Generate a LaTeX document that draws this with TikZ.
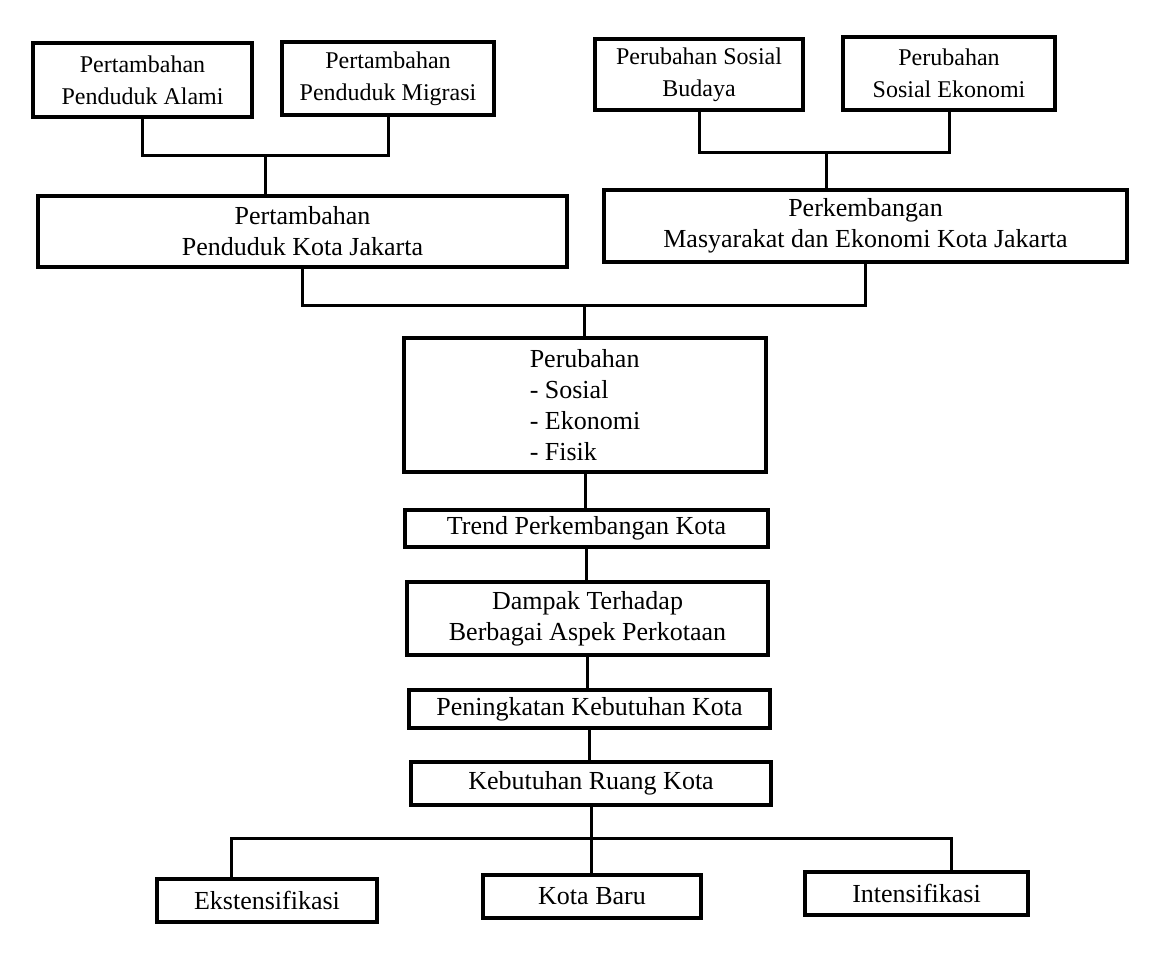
\documentclass[tikz,border=0pt]{standalone}
\usepackage{fontspec}
\setmainfont{Liberation Serif}
\tikzset{
  box/.style={draw=black, line width=3.4pt, fill=white, inner sep=0pt, align=center,
              font=\fontsize{26}{31}\selectfont},
  topbox/.style={box, font=\fontsize{24}{32}\selectfont},
  link/.style={draw=black, line width=3pt}
}
\begin{document}
\begin{tikzpicture}[x=1pt,y=-1pt]
\useasboundingbox (0,0) rectangle (1155,953);
% top row
\node[topbox, minimum width=219pt, minimum height=74pt] (b1) at (142.5,80) {Pertambahan\\Penduduk Alami};
\node[topbox, minimum width=212pt, minimum height=73pt] (b2) at (388,78.5) {Pertambahan\\Penduduk Migrasi};
\node[topbox, minimum width=208pt, minimum height=71pt] (b3) at (699,74.5) {Perubahan Sosial\\Budaya};
\node[topbox, minimum width=212pt, minimum height=73pt] (b4) at (949,73.5) {Perubahan\\Sosial Ekonomi};
% second row
\node[box, minimum width=529pt, minimum height=71pt] (b5) at (302.5,231.5) {Pertambahan\\Penduduk Kota Jakarta};
\node[box, minimum width=523pt, minimum height=72pt] (b6) at (865.5,226) {Perkembangan\\Masyarakat dan Ekonomi Kota Jakarta};
% chain
\node[box, minimum width=362pt, minimum height=134pt, align=left] (b7) at (585,405) {Perubahan\\- Sosial\\- Ekonomi\\- Fisik};
\node[box, minimum width=363pt, minimum height=37pt] (b8) at (586.5,528.5) {Trend Perkembangan Kota};
\node[box, minimum width=361pt, minimum height=73pt] (b9) at (587.5,618.5) {Dampak Terhadap\\Berbagai Aspek Perkotaan};
\node[box, minimum width=361pt, minimum height=38pt] (b10) at (589.5,709) {Peningkatan Kebutuhan Kota};
\node[box, minimum width=360pt, minimum height=43pt] (b11) at (591,783.5) {Kebutuhan Ruang Kota};
% bottom row
\node[box, minimum width=220pt, minimum height=43pt] (b12) at (267,900.5) {Ekstensifikasi};
\node[box, minimum width=218pt, minimum height=43pt] (b13) at (592,896.5) {Kota Baru};
\node[box, minimum width=223pt, minimum height=43pt] (b14) at (916.5,893.5) {Intensifikasi};
% junctions
\coordinate (j1) at (265,155);
\coordinate (j2) at (826,152);
\coordinate (j3) at (584,305);
\coordinate (jl) at (231,838);
\coordinate (jm) at (591,838);
\coordinate (jr) at (951,838);
% connectors
\draw[link] (b1.south) |- (j1) -| (b2.south);
\draw[link] (j1) -- (j1 |- b5.north);
\draw[link] (b3.south) |- (j2) -| (b4.south);
\draw[link] (j2) -- (j2 |- b6.north);
\draw[link] (b5.south) |- (j3) -| (b6.south);
\draw[link] (j3) -- (j3 |- b7.north);
\draw[link] (b7.south) -- (b7.south |- b8.north);
\draw[link] (b8.south) -- (b8.south |- b9.north);
\draw[link] (b9.south) -- (b9.south |- b10.north);
\draw[link] (b10.south) -- (b10.south |- b11.north);
\draw[link] (b11.south) -- (jm);
\draw[link] (jl |- b12.north) -- (jl) -- (jr) -- (jr |- b14.north);
\draw[link] (jm) -- (jm |- b13.north);
\end{tikzpicture}
\end{document}
